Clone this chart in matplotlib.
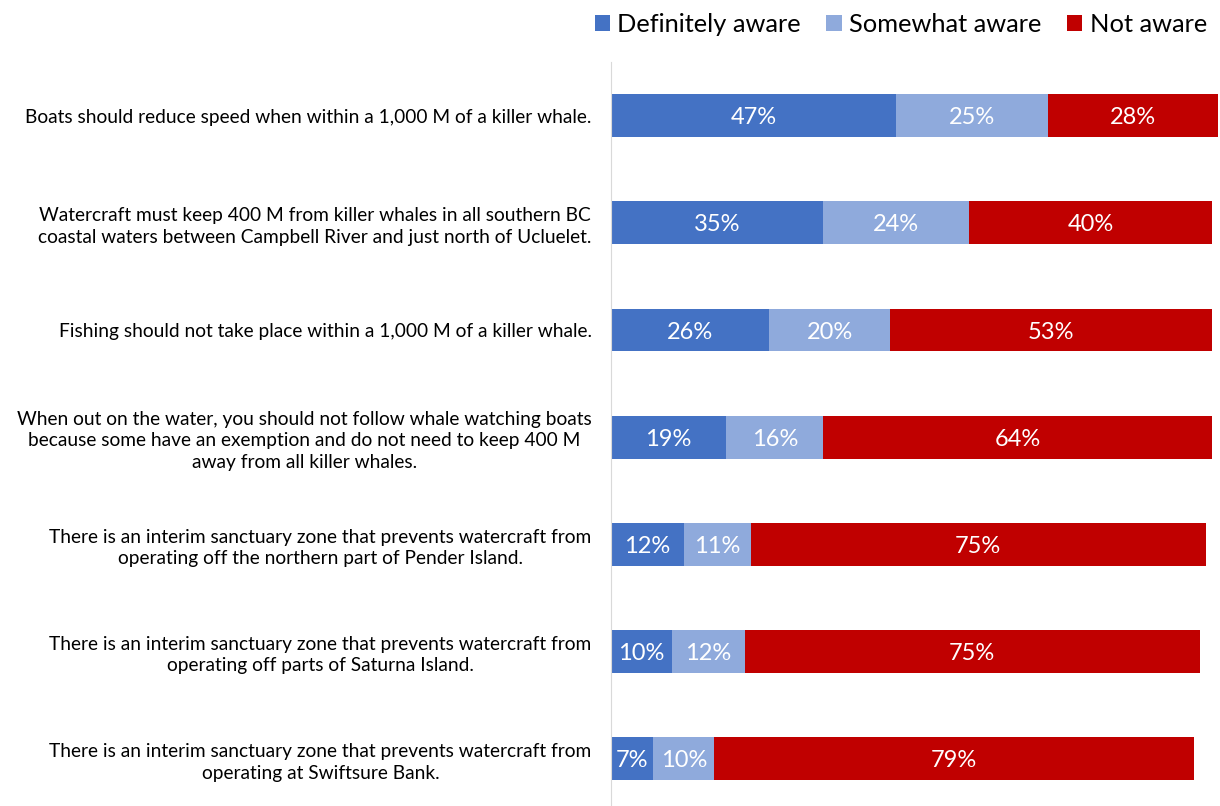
import matplotlib
matplotlib.use("Agg")
import matplotlib.pyplot as plt
import numpy as np

# survey statements (top to bottom)
statements = [
    "Boats should reduce speed when within a 1,000 M of a killer whale.",
    "Watercraft must keep 400 M from killer whales in all southern BC\ncoastal waters between Campbell River and just north of Ucluelet.",
    "Fishing should not take place within a 1,000 M of a killer whale.",
    "When out on the water, you should not follow whale watching boats\nbecause some have an exemption and do not need to keep 400 M\naway from all killer whales.",
    "There is an interim sanctuary zone that prevents watercraft from\noperating off the northern part of Pender Island.",
    "There is an interim sanctuary zone that prevents watercraft from\noperating off parts of Saturna Island.",
    "There is an interim sanctuary zone that prevents watercraft from\noperating at Swiftsure Bank.",
]
definitely = [47, 35, 26, 19, 12, 10, 7]
somewhat = [25, 24, 20, 16, 11, 12, 10]
not_aware = [28, 40, 53, 64, 75, 75, 79]

series = ["Definitely aware", "Somewhat aware", "Not aware"]
colors = ["#4472C4", "#8FAADC", "#C00000"]

plt.rcParams['font.family'] = ['Lato', 'DejaVu Sans']

fig = plt.figure(figsize=(12.2, 8.06), dpi=100)
ax = fig.add_axes([611 / 1220, 0, 607 / 1220, (806 - 62) / 806])

y = np.arange(len(statements))
left = np.zeros(len(statements))
handles = []
for name, vals, col in zip(series, [definitely, somewhat, not_aware], colors):
    vals = np.array(vals, dtype=float)
    b = ax.barh(y, vals, left=left, height=0.4, color=col, label=name)
    handles.append(b)
    for yi, l, v in zip(y, left, vals):
        ax.text(l + v / 2, yi + 0.02, f"{int(v)}%", ha='center', va='center',
                color='white', fontsize=17)
    left += vals

ax.set_xlim(0, 100)
ax.set_ylim(6.44, -0.5)
ax.set_yticks(y)
ax.set_yticklabels(statements, fontsize=13.8, multialignment='center',
                   linespacing=1.3)
ax.tick_params(axis='y', length=0, pad=14)
ax.tick_params(axis='x', bottom=False, labelbottom=False)
for s in ['top', 'right', 'bottom']:
    ax.spines[s].set_visible(False)
ax.spines['left'].set_color('#D9D9D9')

fig.legend(handles=handles, loc='upper right', bbox_to_anchor=(1.0, 1.0),
           ncol=3, frameon=False, fontsize=18.3, handlelength=0.6,
           handleheight=0.6, handletextpad=0.3, columnspacing=1.0,
           borderaxespad=0.1)

fig.savefig("out.png", dpi=100)
